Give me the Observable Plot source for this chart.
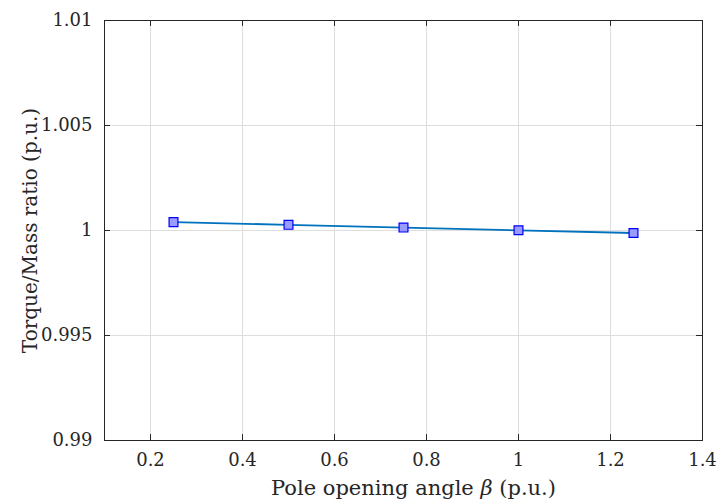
<!DOCTYPE html>
<html><head><meta charset="utf-8">
<script src="https://cdn.jsdelivr.net/npm/d3@7"></script>
<script src="https://cdn.jsdelivr.net/npm/@observablehq/plot@0.6"></script>
<style>
body{margin:0;background:#fff;}
#chart svg{display:block;}
</style>
</head><body><div id="chart"></div>
<script>
const beta = [0.25, 0.5, 0.75, 1.0, 1.25];
const ratio = [1.0004, 1.00027, 1.00014, 1.00001, 0.99988];
const xTicks = [0.2, 0.4, 0.6, 0.8, 1, 1.2, 1.4];
const yTicks = [0.99, 0.995, 1, 1.005, 1.01];
const xLabel = "Pole opening angle β (p.u.)";
const yLabel = "Torque/Mass ratio (p.u.)";
const data = beta.map((b, i) => ({beta: b, ratio: ratio[i]}));

const font = "'DejaVu Serif', 'Liberation Serif', serif";
const axisColor = "#262626";
const fmtX = d => String(d);
const fmtY = d => String(+d.toFixed(3));

const plot = Plot.plot({
  width: 719,
  height: 504,
  marginLeft: 104,
  marginRight: 17,
  marginTop: 20,
  marginBottom: 64,
  style: {fontFamily: font, fontSize: "18px", color: axisColor, background: "#fff"},
  x: {domain: [0.1, 1.4]},
  y: {domain: [0.99, 1.01]},
  marks: [
    Plot.gridX(xTicks, {stroke: "#dedede", strokeOpacity: 1}),
    Plot.gridY(yTicks, {stroke: "#dedede", strokeOpacity: 1}),
    Plot.frame({stroke: axisColor, strokeWidth: 1}),
    Plot.axisX(xTicks, {anchor: "bottom", tickSize: 0, tickPadding: 13, tickFormat: fmtX, fontSize: 18, label: null, fill: axisColor}),
    Plot.ruleX(xTicks, {x: d => d, y1: 0.99, y2: 0.99 + 0.00028, stroke: axisColor}),
    Plot.ruleX(xTicks, {x: d => d, y1: 1.01, y2: 1.01 - 0.00028, stroke: axisColor}),
    Plot.axisY(yTicks, {anchor: "left", tickSize: 0, tickPadding: 12, tickFormat: fmtY, fontSize: 18, label: null, fill: axisColor}),
    Plot.ruleY(yTicks, {y: d => d, x1: 0.1, x2: 0.1 + 0.013, stroke: axisColor}),
    Plot.ruleY(yTicks, {y: d => d, x1: 1.4, x2: 1.4 - 0.013, stroke: axisColor}),
    Plot.line(data, {x: "beta", y: "ratio", stroke: "#0072BD", strokeWidth: 1.8}),
    Plot.dot(data, {x: "beta", y: "ratio", symbol: "square", r: 5, fill: "#9a9aff", stroke: "#0000ff", strokeWidth: 1.2}),
    Plot.text([xLabel], {frameAnchor: "bottom", dx: 10, dy: 54, fontSize: 21, text: d => d, fill: axisColor}),
    Plot.text([yLabel], {frameAnchor: "left", dx: -74, rotate: -90, textAnchor: "middle", fontSize: 20, text: d => d, fill: axisColor})
  ]
});
document.getElementById("chart").append(plot);
// italicize beta in x label
plot.querySelectorAll("text").forEach(t => {
  if (t.textContent === xLabel && !t.querySelector("tspan")) {
    const [a, b] = xLabel.split("β");
    t.textContent = "";
    const ns = "http://www.w3.org/2000/svg";
    const s1 = document.createElementNS(ns, "tspan"); s1.textContent = a;
    const s2 = document.createElementNS(ns, "tspan"); s2.textContent = "β"; s2.setAttribute("font-style", "italic");
    const s3 = document.createElementNS(ns, "tspan"); s3.textContent = b;
    t.append(s1, s2, s3);
  }
});
</script>
</body></html>
